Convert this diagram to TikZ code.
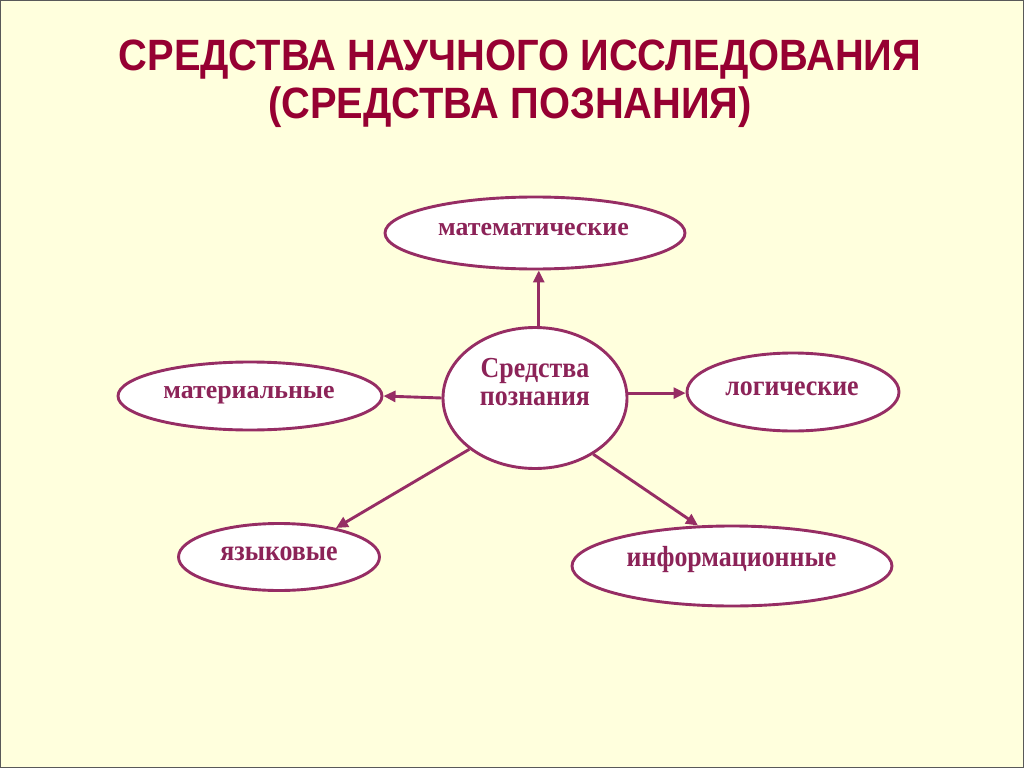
\documentclass[tikz,border=0pt]{standalone}
\usepackage{fontspec}
\setmainfont{Liberation Serif}
\newfontfamily\titlefont{Liberation Sans}
\usetikzlibrary{shapes.geometric,arrows.meta}
\definecolor{bg}{RGB}{255,255,221}
\definecolor{titlecol}{RGB}{150,0,50}
\definecolor{edgecol}{RGB}{150,45,100}
\definecolor{txtcol}{RGB}{140,35,88}
\newcommand{\tallT}[1]{\scalebox{1}[1.1]{#1}}
\newcommand{\tallC}[1]{\scalebox{1}[1.12]{#1}}
\tikzset{
  ell/.style={ellipse, draw=edgecol, line width=2.9bp, fill=white, inner sep=0pt},
  txt/.style={text=txtcol, font=\fontsize{26}{28}\selectfont\bfseries, inner sep=0pt, anchor=base},
  ttl/.style={text=titlecol, font=\titlefont\fontsize{40}{44}\selectfont\bfseries, inner sep=0pt, anchor=base},
  conn/.style={draw=edgecol, line width=2.9bp, -{Triangle[length=12bp,width=11bp]}}
}
\begin{document}
\begin{tikzpicture}[x=1bp,y=-1bp]
\useasboundingbox (0,0) rectangle (1024,768);
\fill[bg] (0,0) rectangle (1024,768);
\draw[gray!70!black, line width=1.5bp] (0.75,0.75) rectangle (1023.25,767.25);

\node[ttl] (t1) at (520,71) {\tallT{СРЕДСТВА НАУЧНОГО ИССЛЕДОВАНИЯ}};
\node[ttl] (t2) at (510,118) {\tallT{(СРЕДСТВА ПОЗНАНИЯ)}};

\node[ell, minimum width=300bp, minimum height=72bp] (m) at (535,233) {};
\node[ell, minimum width=184bp, minimum height=141bp] (c) at (535,398) {};
\node[ell, minimum width=264bp, minimum height=68bp] (mat) at (250,396) {};
\node[ell, minimum width=212bp, minimum height=78bp] (log) at (793,392) {};
\node[ell, minimum width=201bp, minimum height=67bp] (yaz) at (279,557) {};
\node[ell, minimum width=320bp, minimum height=80bp] (inf) at (732,566) {};

\node[txt] (tm) at (533.5,235) {математические};
\node[txt] (tc1) at (535,377) {\tallC{Средства}};
\node[txt] (tc2) at (535,405) {\tallC{познания}};
\node[txt] (tmat) at (249,398) {материальные};
\node[txt] (tlog) at (792,395) {\tallC{логические}};
\node[txt] (tyaz) at (279,560) {\tallC{языковые}};
\node[txt] (tinf) at (731.5,566) {\tallC{информационные}};

\draw[conn] (c.87) -- (c.87 |- m.south);
\draw[conn] (c.west) -- (mat.east);
\draw[conn] (c.3) -- (c.3 -| log.west);
\draw[conn] (c.218) -- (yaz.27);
\draw[conn] (c.316) -- (inf.130);
\end{tikzpicture}
\end{document}
